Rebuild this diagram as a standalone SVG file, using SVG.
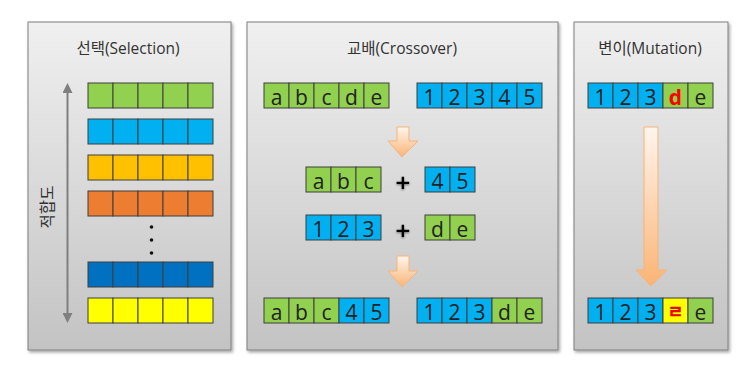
<svg xmlns="http://www.w3.org/2000/svg" width="752" height="374" viewBox="0 0 752 374">
<defs>
<linearGradient id="panelGrad" x1="0" y1="0" x2="0" y2="1">
<stop offset="0" stop-color="#f0f0f0"/>
<stop offset="1" stop-color="#c3c3c3"/>
</linearGradient>
<linearGradient id="arrowGrad" x1="0" y1="0" x2="0" y2="1">
<stop offset="0" stop-color="#fff5ee"/>
<stop offset="1" stop-color="#fab474"/>
</linearGradient>
<filter id="shadow" x="-10%" y="-10%" width="120%" height="120%">
<feDropShadow dx="1.5" dy="2" stdDeviation="1.5" flood-color="#000" flood-opacity="0.35"/>
</filter>
<filter id="blur" x="-50%" y="-50%" width="200%" height="200%">
<feDropShadow dx="0" dy="1" stdDeviation="1.2" flood-color="#000" flood-opacity="0.5"/>
</filter>
<marker id="grayHead" viewBox="0 0 10 10" refX="5" refY="5" markerWidth="10" markerHeight="10" markerUnits="userSpaceOnUse" orient="auto-start-reverse">
<path d="M0,0 L10,5 L0,10 z" fill="#7f7f7f"/>
</marker>
</defs>
<style>
.panel { fill:url(#panelGrad); stroke:#7f7f7f; stroke-width:1; filter:url(#shadow); }
.title { font-family:"Open Sans","Noto Sans CJK KR",sans-serif; font-size:15.5px; fill:#333; text-anchor:middle; }
.c { stroke:#3f3f3f; stroke-width:1; }
.g { fill:#92d050; } .b { fill:#00b0f0; } .o { fill:#ffc000; } .r { fill:#ed7d31; } .d { fill:#0070c0; } .y { fill:#ffff00; }
.t { font-family:"Open Sans","DejaVu Sans",sans-serif; font-size:21px; fill:#222; text-anchor:middle; }
.red { fill:#ff0000; font-weight:bold; }
.plus { font-family:"DejaVu Sans",sans-serif; font-size:20px; font-weight:bold; fill:#000; text-anchor:middle; filter:url(#blur); }
.arr { fill:url(#arrowGrad); stroke:#f6b37a; stroke-width:1; }
</style>
<rect width="752" height="374" fill="#ffffff"/>

<g id="panel-selection">
<rect class="panel" x="28" y="22" width="203" height="328"/>
<text class="title" x="128" y="54">선택(Selection)</text>
<g id="sel-row1">
<rect class="c g" x="88" y="83" width="25" height="25"/><rect class="c g" x="113" y="83" width="25" height="25"/><rect class="c g" x="138" y="83" width="25" height="25"/><rect class="c g" x="163" y="83" width="25" height="25"/><rect class="c g" x="188" y="83" width="25" height="25"/>
</g>
<g id="sel-row2">
<rect class="c b" x="88" y="119" width="25" height="25"/><rect class="c b" x="113" y="119" width="25" height="25"/><rect class="c b" x="138" y="119" width="25" height="25"/><rect class="c b" x="163" y="119" width="25" height="25"/><rect class="c b" x="188" y="119" width="25" height="25"/>
</g>
<g id="sel-row3">
<rect class="c o" x="88" y="155" width="25" height="25"/><rect class="c o" x="113" y="155" width="25" height="25"/><rect class="c o" x="138" y="155" width="25" height="25"/><rect class="c o" x="163" y="155" width="25" height="25"/><rect class="c o" x="188" y="155" width="25" height="25"/>
</g>
<g id="sel-row4">
<rect class="c r" x="88" y="191" width="25" height="25"/><rect class="c r" x="113" y="191" width="25" height="25"/><rect class="c r" x="138" y="191" width="25" height="25"/><rect class="c r" x="163" y="191" width="25" height="25"/><rect class="c r" x="188" y="191" width="25" height="25"/>
</g>
<g id="sel-dots" fill="#111">
<circle cx="151.5" cy="227" r="1.8"/><circle cx="151.5" cy="240" r="1.8"/><circle cx="151.5" cy="253" r="1.8"/>
</g>
<g id="sel-row5">
<rect class="c d" x="88" y="262" width="25" height="25"/><rect class="c d" x="113" y="262" width="25" height="25"/><rect class="c d" x="138" y="262" width="25" height="25"/><rect class="c d" x="163" y="262" width="25" height="25"/><rect class="c d" x="188" y="262" width="25" height="25"/>
</g>
<g id="sel-row6">
<rect class="c y" x="88" y="298" width="25" height="25"/><rect class="c y" x="113" y="298" width="25" height="25"/><rect class="c y" x="138" y="298" width="25" height="25"/><rect class="c y" x="163" y="298" width="25" height="25"/><rect class="c y" x="188" y="298" width="25" height="25"/>
</g>
<text class="title" x="0" y="0" transform="translate(53,207) rotate(-90)">적합도</text>
</g>

<g id="panel-crossover">
<rect class="panel" x="247" y="22" width="311" height="328"/>
<text class="title" x="402" y="54">교배(Crossover)</text>
<g id="cx-parent1">
<rect class="c g" x="264" y="83" width="25" height="25"/><rect class="c g" x="289" y="83" width="25" height="25"/><rect class="c g" x="314" y="83" width="25" height="25"/><rect class="c g" x="339" y="83" width="25" height="25"/><rect class="c g" x="364" y="83" width="25" height="25"/>
<text class="t" x="276.5" y="104.5">a</text><text class="t" x="301.5" y="104.5">b</text><text class="t" x="326.5" y="104.5">c</text><text class="t" x="351.5" y="104.5">d</text><text class="t" x="376.5" y="104.5">e</text>
</g>
<g id="cx-parent2">
<rect class="c b" x="417" y="83" width="25" height="25"/><rect class="c b" x="442" y="83" width="25" height="25"/><rect class="c b" x="467" y="83" width="25" height="25"/><rect class="c b" x="492" y="83" width="25" height="25"/><rect class="c b" x="517" y="83" width="25" height="25"/>
<text class="t" x="429.5" y="104.5">1</text><text class="t" x="454.5" y="104.5">2</text><text class="t" x="479.5" y="104.5">3</text><text class="t" x="504.5" y="104.5">4</text><text class="t" x="529.5" y="104.5">5</text>
</g>
<g id="cx-abc">
<rect class="c g" x="306" y="167" width="25" height="25"/><rect class="c g" x="331" y="167" width="25" height="25"/><rect class="c g" x="356" y="167" width="25" height="25"/>
<text class="t" x="318.5" y="188.5">a</text><text class="t" x="343.5" y="188.5">b</text><text class="t" x="368.5" y="188.5">c</text>
</g>
<text class="plus" x="403" y="188.5">+</text>
<g id="cx-45">
<rect class="c b" x="425" y="167" width="25" height="25"/><rect class="c b" x="450" y="167" width="25" height="25"/>
<text class="t" x="437.5" y="188.5">4</text><text class="t" x="462.5" y="188.5">5</text>
</g>
<g id="cx-123">
<rect class="c b" x="306" y="215" width="25" height="25"/><rect class="c b" x="331" y="215" width="25" height="25"/><rect class="c b" x="356" y="215" width="25" height="25"/>
<text class="t" x="318.5" y="236.5">1</text><text class="t" x="343.5" y="236.5">2</text><text class="t" x="368.5" y="236.5">3</text>
</g>
<text class="plus" x="403" y="236.5">+</text>
<g id="cx-de">
<rect class="c g" x="425" y="215" width="25" height="25"/><rect class="c g" x="450" y="215" width="25" height="25"/>
<text class="t" x="437.5" y="236.5">d</text><text class="t" x="462.5" y="236.5">e</text>
</g>
<g id="cx-child1">
<rect class="c g" x="264" y="298" width="25" height="25"/><rect class="c g" x="289" y="298" width="25" height="25"/><rect class="c g" x="314" y="298" width="25" height="25"/><rect class="c b" x="339" y="298" width="25" height="25"/><rect class="c b" x="364" y="298" width="25" height="25"/>
<text class="t" x="276.5" y="319.5">a</text><text class="t" x="301.5" y="319.5">b</text><text class="t" x="326.5" y="319.5">c</text><text class="t" x="351.5" y="319.5">4</text><text class="t" x="376.5" y="319.5">5</text>
</g>
<g id="cx-child2">
<rect class="c b" x="417" y="298" width="25" height="25"/><rect class="c b" x="442" y="298" width="25" height="25"/><rect class="c b" x="467" y="298" width="25" height="25"/><rect class="c g" x="492" y="298" width="25" height="25"/><rect class="c g" x="517" y="298" width="25" height="25"/>
<text class="t" x="429.5" y="319.5">1</text><text class="t" x="454.5" y="319.5">2</text><text class="t" x="479.5" y="319.5">3</text><text class="t" x="504.5" y="319.5">d</text><text class="t" x="529.5" y="319.5">e</text>
</g>
</g>

<g id="panel-mutation">
<rect class="panel" x="574" y="22" width="154" height="328"/>
<text class="title" x="650" y="54">변이(Mutation)</text>
<g id="mu-before">
<rect class="c b" x="588" y="83" width="25" height="25"/><rect class="c b" x="613" y="83" width="25" height="25"/><rect class="c b" x="638" y="83" width="25" height="25"/><rect class="c g" x="663" y="83" width="25" height="25"/><rect class="c g" x="688" y="83" width="25" height="25"/>
<text class="t" x="600.5" y="104.5">1</text><text class="t" x="625.5" y="104.5">2</text><text class="t" x="650.5" y="104.5">3</text><text class="t red" x="675.5" y="104.5">d</text><text class="t" x="700.5" y="104.5">e</text>
</g>
<g id="mu-after">
<rect class="c b" x="588" y="298" width="25" height="25"/><rect class="c b" x="613" y="298" width="25" height="25"/><rect class="c b" x="638" y="298" width="25" height="25"/><rect class="c y" x="663" y="298" width="25" height="25"/><rect class="c g" x="688" y="298" width="25" height="25"/>
<text class="t" x="600.5" y="319.5">1</text><text class="t" x="625.5" y="319.5">2</text><text class="t" x="650.5" y="319.5">3</text><text class="red" x="675.5" y="318" font-family="'Noto Sans CJK KR',sans-serif" font-size="17" text-anchor="middle" stroke="#c00000" stroke-width="0.4">ㄹ</text><text class="t" x="700.5" y="319.5">e</text>
</g>
</g>

<g id="connectors">
<line x1="67.5" y1="88" x2="67.5" y2="318" stroke="#7f7f7f" stroke-width="2" marker-start="url(#grayHead)" marker-end="url(#grayHead)"/>
<path class="arr" d="M397,127 H409 V141 H418 L402,157 L388,141 H397 Z"/>
<path class="arr" d="M397,256 H409 V271 H418 L402,287 L388,271 H397 Z"/>
<path class="arr" d="M644,127 H658 V270 H667 L651,286 L636,270 H644 Z"/>
</g>
</svg>
